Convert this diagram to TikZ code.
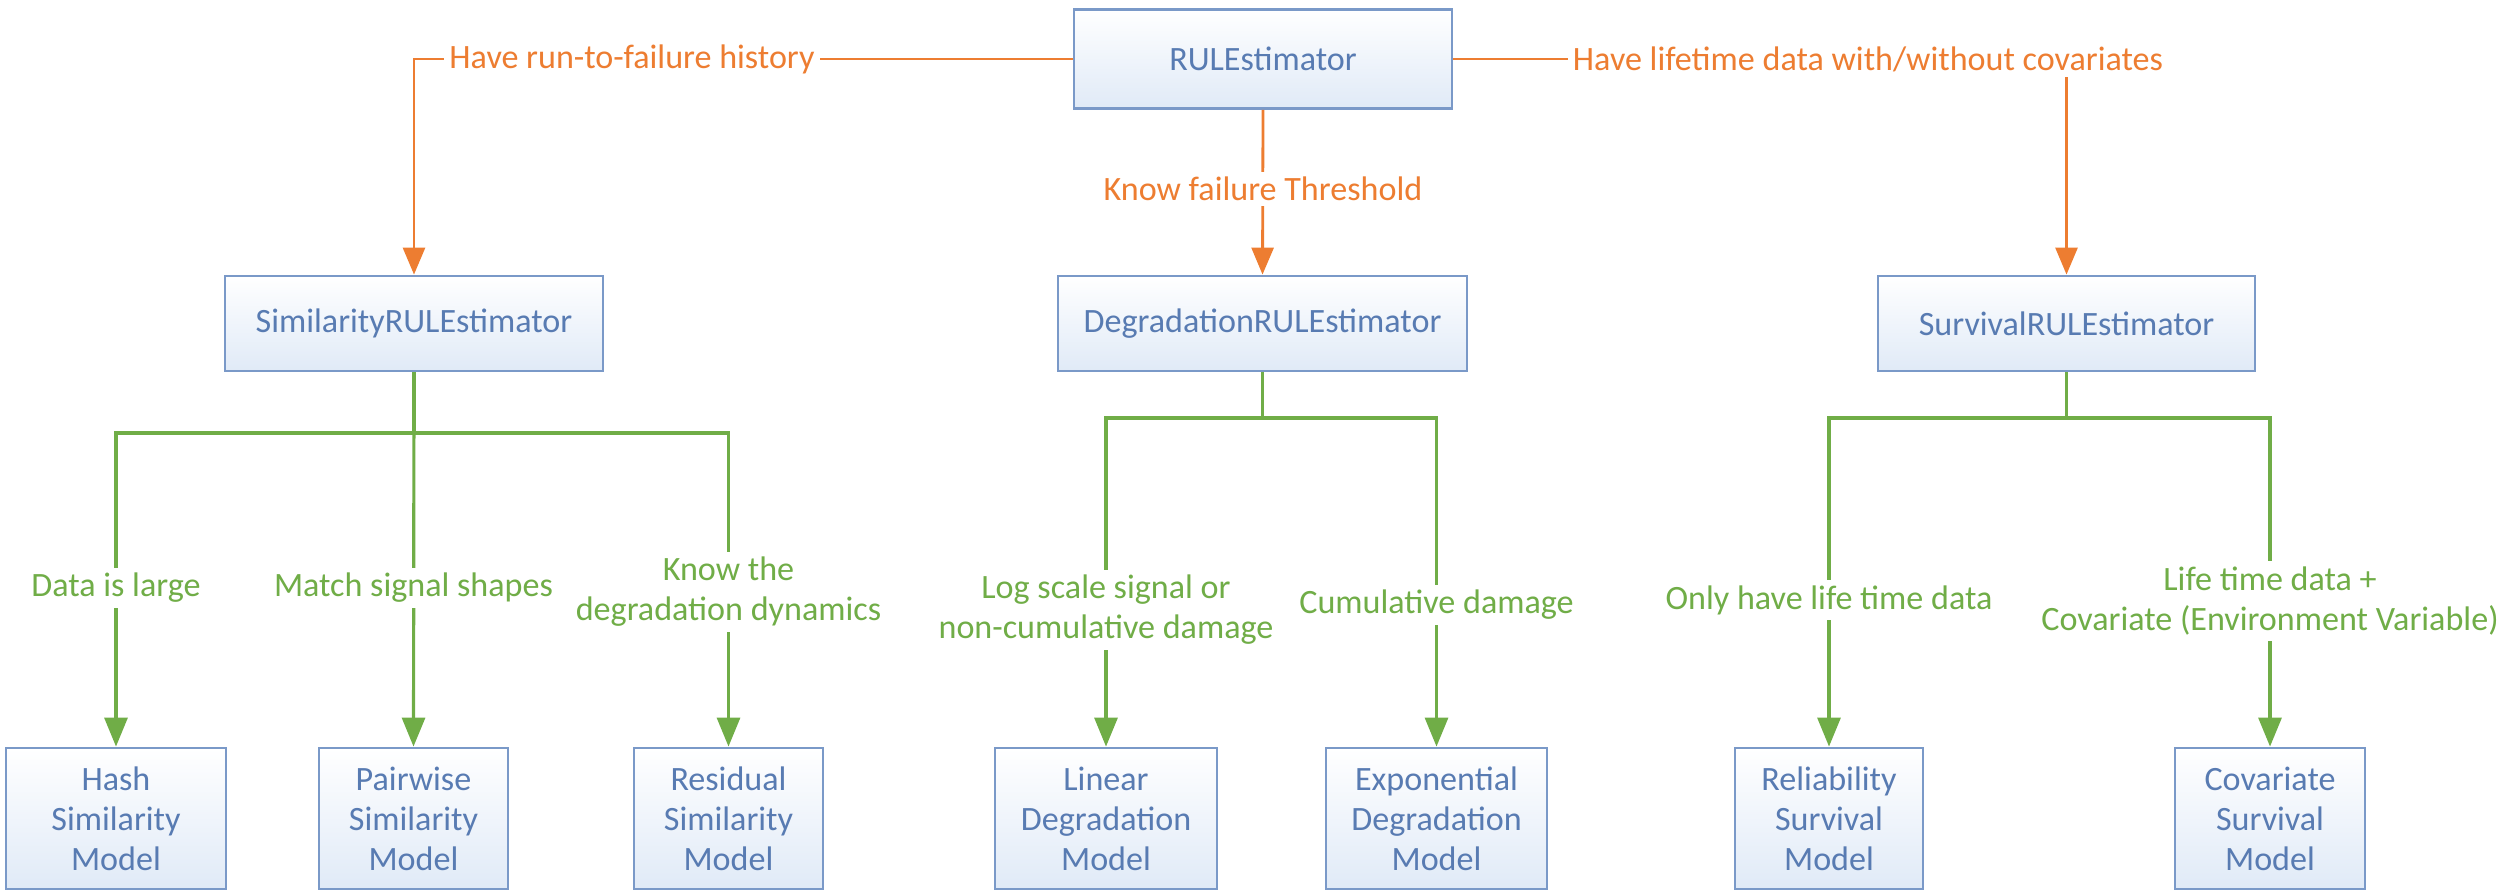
\documentclass[tikz,border=0pt]{standalone}
\usepackage{fontspec}
\setmainfont{Carlito}
\usetikzlibrary{arrows.meta,positioning}
\definecolor{boxline}{RGB}{122,153,200}
\definecolor{boxfill}{RGB}{224,234,247}
\definecolor{boxtext}{RGB}{88,123,178}
\definecolor{orng}{RGB}{237,125,49}
\definecolor{grn}{RGB}{112,173,71}

\begin{document}
\begin{tikzpicture}[x=1cm, y=1cm,
  every node/.style={font=\fontsize{9.7}{11.4}\selectfont},
  box/.style={draw=boxline, line width=0.8pt, top color=white, bottom color=boxfill, text=boxtext, align=center, inner sep=0pt},
  est/.style={box, minimum height=9.5mm},
  model/.style={box, minimum height=14.1mm},
  olink/.style={draw=orng, line width=0.8pt, -{Triangle[length=2.7mm, width=2.2mm]}},
  glink/.style={draw=grn, line width=0.9pt, -{Triangle[length=2.9mm, width=2.3mm]}},
  lab/.style={fill=white, inner sep=1.5pt, align=center},
  olab/.style={lab, text=orng},
  glab/.style={lab, text=grn}]
  \useasboundingbox (0,0) rectangle (25.09,-8.93);
  \node[est, minimum width=37.8mm, minimum height=9.9mm] (root) at (12.63,-0.59) {RULEstimator};
  \node[est, minimum width=37.8mm] (sim) at (4.14,-3.235) {SimilarityRULEstimator};
  \node[est, minimum width=40.9mm] (deg) at (12.625,-3.235) {DegradationRULEstimator};
  \node[est, minimum width=37.7mm] (surv) at (20.665,-3.235) {SurvivalRULEstimator};
  \node[model, minimum width=22mm] (hash) at (1.16,-8.185) {Hash\\Similarity\\Model};
  \node[model, minimum width=18.9mm] (pair) at (4.135,-8.185) {Pairwise\\Similarity\\Model};
  \node[model, minimum width=18.9mm] (resid) at (7.285,-8.185) {Residual\\Similarity\\Model};
  \node[model, minimum width=22.2mm] (lin) at (11.06,-8.185) {Linear\\Degradation\\Model};
  \node[model, minimum width=22.1mm] (expo) at (14.365,-8.185) {Exponential\\Degradation\\Model};
  \node[model, minimum width=18.8mm] (reli) at (18.29,-8.185) {Reliability\\Survival\\Model};
  \node[model, minimum width=19mm] (cova) at (22.70,-8.185) {Covariate\\Survival\\Model};
  \coordinate (simbar) at (4.14,-4.33);
  \coordinate (degbar) at (12.625,-4.18);
  \coordinate (survbar) at (20.665,-4.18);
  \draw[olink] (root.west) -| (sim.north);
  \draw[olink] (root.south) -- (deg.north);
  \draw[olink] (root.east) -| (surv.north);
  \draw[glink] (sim.south) -- (simbar) -| (hash.north);
  \draw[glink] (sim.south) -- (pair.north);
  \draw[glink] (sim.south) -- (simbar) -| (resid.north);
  \draw[glink] (deg.south) -- (degbar) -| (lin.north);
  \draw[glink] (deg.south) -- (degbar) -| (expo.north);
  \draw[glink] (surv.south) -- (survbar) -| (reli.north);
  \draw[glink] (surv.south) -- (survbar) -| (cova.north);
  \node[olab] (runlab) at (6.32,-0.59) {Have run-to-failure history};
  \node[olab] (thrlab) at (12.63,-1.89) {Know failure Threshold};
  \node[olab] (lifelab) at (18.68,-0.59) {Have lifetime data with/without covariates};
  \node[glab] (largelab) at (1.16,-5.88) {Data is large};
  \node[glab] (shapelab) at (4.135,-5.88) {Match signal shapes};
  \node[glab] (dynlab) at (7.285,-5.92) {Know the\\degradation dynamics};
  \node[glab] (loglab) at (11.06,-6.10) {Log scale signal or\\non-cumulative damage};
  \node[glab] (cumlab) at (14.365,-6.05) {Cumulative damage};
  \node[glab] (onlylab) at (18.29,-6.00) {Only have life time data};
  \node[glab] (covlab) at (22.70,-6.01) {Life time data +\\Covariate (Environment Variable)};
\end{tikzpicture}
\end{document}
